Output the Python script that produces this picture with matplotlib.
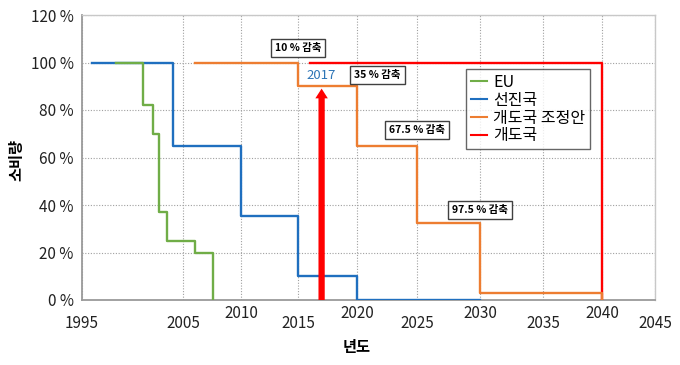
import numpy as np
import matplotlib
matplotlib.use("Agg")
import matplotlib.pyplot as plt
import matplotlib.transforms as mtransforms

plt.rcParams['font.family'] = ['Noto Sans CJK KR', 'DejaVu Sans']

# ---- data ----
eu_years = [1998.4, 2001, 2002, 2002.6, 2003.4, 2006, 2007.6, 2007.6]
eu_vals = [100, 82, 70, 37, 25, 20, 0, 0]

dev_years = [1996, 2004, 2010, 2015, 2020, 2030]
dev_vals = [100, 65, 35.5, 10, 0, 0]

adj_years = [2006, 2015, 2020, 2025, 2030, 2040, 2040]
adj_vals = [100, 90, 65, 32.5, 3, 0, 0]

red_years = [2016, 2040, 2040]
red_vals = [100, 0, 0]

labels = ['EU', '선진국', '개도국 조정안', '개도국']
colors = ['#70AD47', '#1F6FBF', '#ED7D31', '#FF0000']

xticks = [1995, 2005, 2010, 2015, 2020, 2025, 2030, 2035, 2040, 2045]
upper_ticks = [2010, 2020, 2030, 2040]
yticks = [0, 20, 40, 60, 80, 100, 120]

notes = ['10 % 감축', '35 % 감축', '67.5 % 감축', '97.5 % 감축']
note_pos = [(2015, 106), (2021.7, 94.7), (2025, 71.6), (2030, 37.9)]

arrow_year = 2017
arrow_top = 89

# ---- piecewise axis mapping (chart's uneven x spacing) ----
anchor_years = np.array(xticks, dtype=float)
anchor_pix = np.array([82, 183, 241, 298, 357, 417, 480, 543, 602, 655], dtype=float)

def fwd(x):
    return np.interp(x, anchor_years, anchor_pix)

def inv(p):
    return np.interp(p, anchor_pix, anchor_years)

fig = plt.figure(figsize=(6.8, 3.65), dpi=100)
W, H = 680, 365
ax = fig.add_axes([82 / W, 1 - 300 / H, (655 - 82) / W, (300 - 15) / H])
ax.set_xscale('function', functions=(fwd, inv))
ax.set_xlim(1995, 2045)
ax.set_ylim(0, 120)

lw = 1.7
ax.plot(red_years, red_vals, color=colors[3], lw=lw, drawstyle='steps-post', zorder=3)
ax.plot(adj_years, adj_vals, color=colors[2], lw=lw, drawstyle='steps-post', zorder=4)
ax.plot(dev_years, dev_vals, color=colors[1], lw=lw, drawstyle='steps-post', zorder=4)
ax.plot(eu_years, eu_vals, color=colors[0], lw=lw, drawstyle='steps-post', zorder=4)

# legend proxies in the chart order
handles = [plt.Line2D([], [], color=c, lw=1.5) for c in colors]
leg = ax.legend(handles, labels, loc='upper left', bbox_to_anchor=(0.670, 0.81),
                borderaxespad=0, fontsize=11.5, frameon=True, fancybox=False,
                handlelength=1.0, handletextpad=0.4, labelspacing=0.05, borderpad=0.3)
leg.get_frame().set_edgecolor('#404040')
leg.get_frame().set_linewidth(1.0)

# red arrow
ax.annotate('', xy=(arrow_year, arrow_top), xytext=(arrow_year, 0),
            arrowprops=dict(arrowstyle='simple,head_width=0.9,head_length=0.7,tail_width=0.45',
                            color='#FF0000', lw=0, shrinkA=0, shrinkB=0), zorder=5)
ax.text(arrow_year, 94.7, str(arrow_year), color='#2E75B6', fontsize=9.5,
        ha='center', va='center', zorder=6)

for t, (x, y) in zip(notes, note_pos):
    ax.text(x, y, t, fontsize=7.5, fontweight='bold', ha='center', va='center', zorder=6,
            bbox=dict(boxstyle='square,pad=0.4', fc='white', ec='#404040', lw=1.0))

# grid and ticks
ax.set_yticks(yticks)
ax.set_yticklabels([f'{v} %' for v in yticks], fontsize=11)
ax.set_xticks(xticks)
ax.set_xticklabels([])
ax.grid(True, color='#A0A0A0', linestyle=(0, (1, 1.5)), lw=0.8)
ax.tick_params(length=0, colors='#222222')
ax.tick_params(axis='y', pad=6)

trans = mtransforms.blended_transform_factory(ax.transData, fig.transFigure)
for yr in xticks:
    ypix = 314 if yr in upper_ticks else 323
    ax.text(yr, 1 - ypix / H, str(yr), transform=trans, fontsize=11,
            ha='center', va='center', color='#222222', clip_on=False)

for s in ['left', 'bottom']:
    ax.spines[s].set_color('#9A9A9A')
    ax.spines[s].set_linewidth(1.3)
for s in ['top', 'right']:
    ax.spines[s].set_color('#C8C8C8')
    ax.spines[s].set_linewidth(1.0)

fig.text(16 / W, 1 - 160 / H, '소비량', rotation=90, fontsize=11, fontweight='bold',
         ha='center', va='center')
fig.text(357 / W, 1 - 347 / H, '년도', fontsize=11, fontweight='bold',
         ha='center', va='center')

fig.savefig('out.png', dpi=100)
